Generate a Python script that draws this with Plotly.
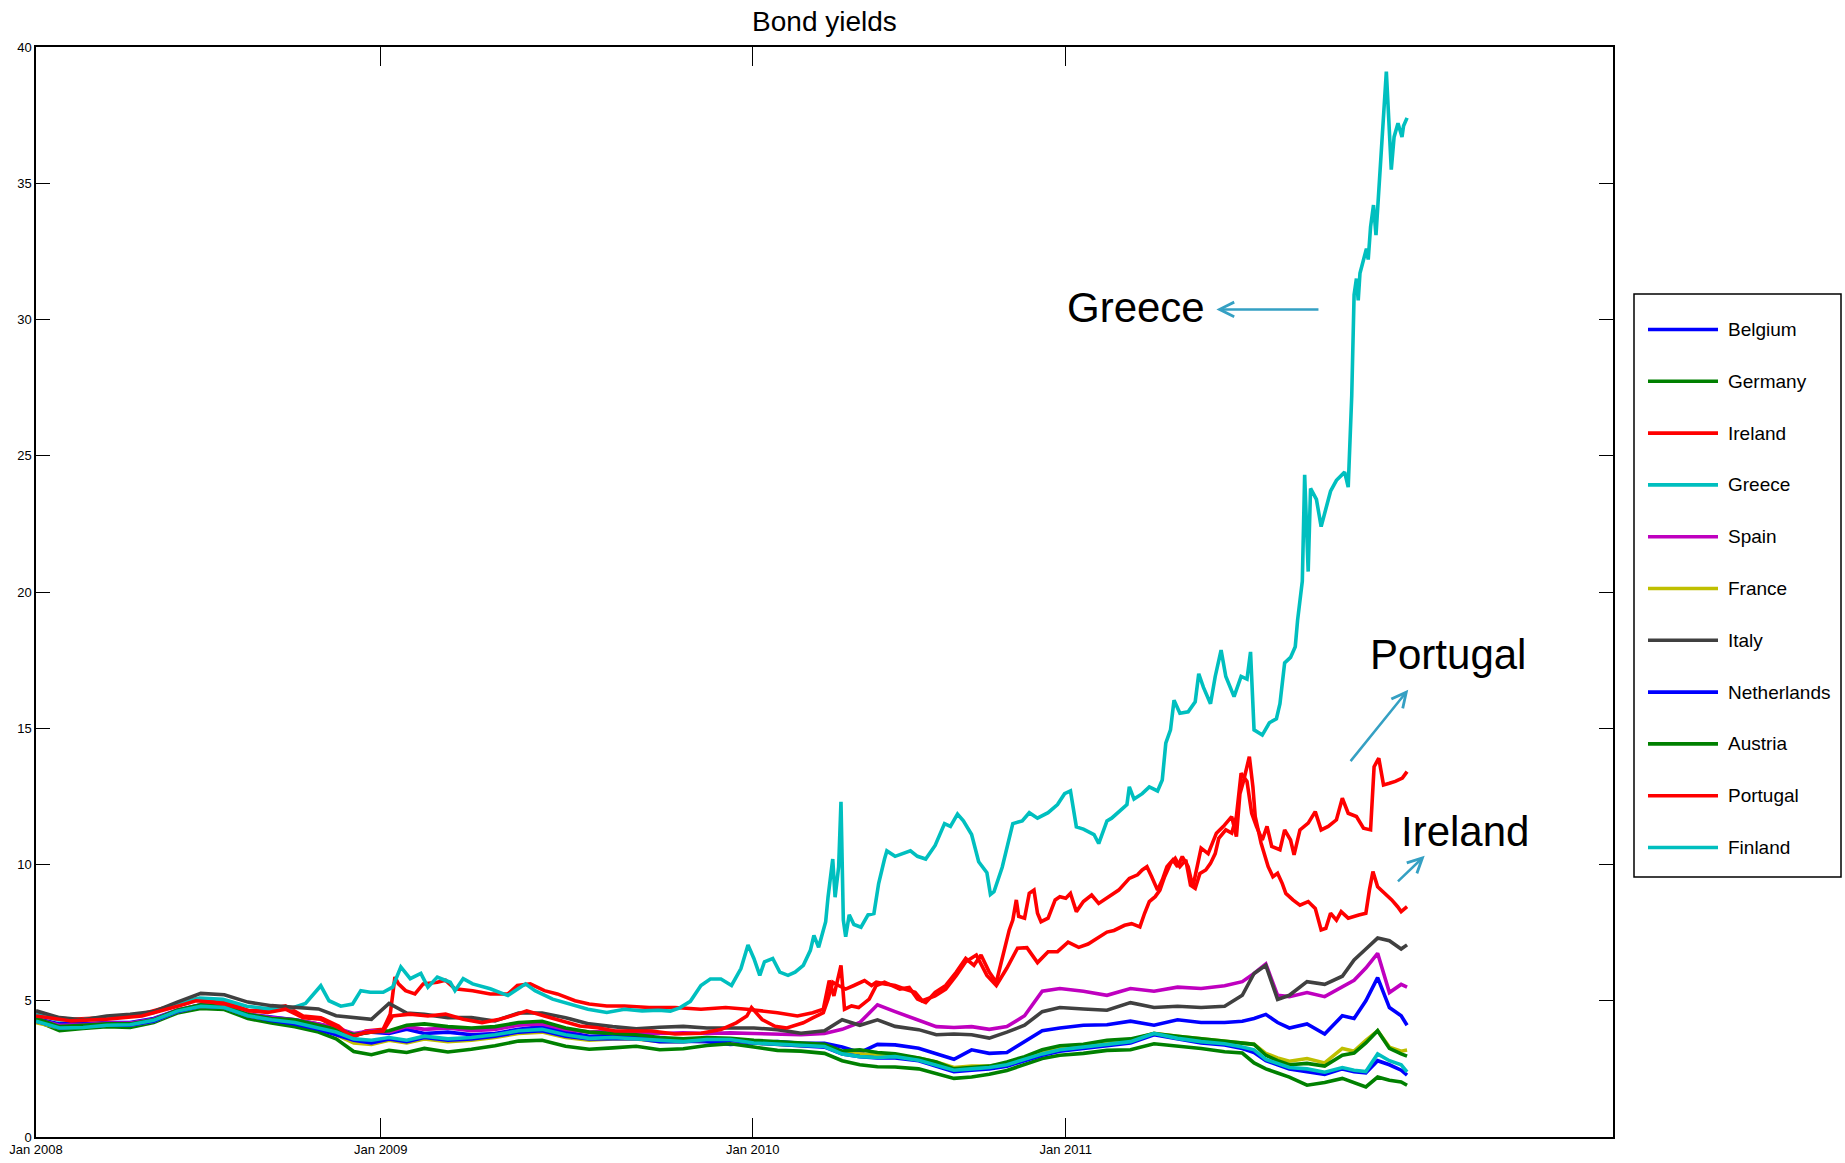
import plotly.graph_objects as go

# ---------------- data ----------------
# x = trading-day index counted from the first observation (Jan 2008)
tick_index = [0, 293, 609, 875]
tick_labels = ["Jan 2008", "Jan 2009", "Jan 2010", "Jan 2011"]
y_ticks = [0, 5, 10, 15, 20, 25, 30, 35, 40]

grid_x = [0, 20, 40, 60, 80, 100, 120, 140, 160, 180,
          200, 220, 240, 255, 270, 285, 300, 315, 330, 350,
          370, 390, 410, 430, 450, 470, 490, 510, 530, 550,
          570, 590, 610, 630, 650, 670, 685, 700, 715, 730,
          750, 765, 780, 795, 810, 825, 840, 855, 870, 890,
          910, 930, 950, 970, 990, 1010, 1025, 1035, 1045, 1055,
          1065, 1080, 1095, 1110, 1120, 1130, 1140, 1150, 1160, 1165]

belgium = [4.35, 4.15, 4.15, 4.20, 4.20, 4.35, 4.65, 4.85, 4.80, 4.50,
           4.40, 4.30, 4.15, 4.00, 3.75, 3.85, 3.80, 3.95, 3.80, 3.85,
           3.75, 3.80, 3.95, 4.05, 3.85, 3.70, 3.72, 3.65, 3.58, 3.52,
           3.50, 3.40, 3.45, 3.50, 3.44, 3.44, 3.30, 3.10, 3.40, 3.38,
           3.26, 3.07, 2.85, 3.20, 3.07, 3.10, 3.50, 3.90, 4.00, 4.10,
           4.12, 4.25, 4.10, 4.30, 4.20, 4.20, 4.25, 4.35, 4.50, 4.20,
           4.00, 4.15, 3.78, 4.45, 4.35, 5.00, 5.85, 4.75, 4.45, 4.10]

germany = [4.26, 3.90, 3.98, 4.05, 4.02, 4.20, 4.55, 4.72, 4.68, 4.35,
           4.18, 4.05, 3.85, 3.60, 3.14, 3.02, 3.18, 3.10, 3.25, 3.12,
           3.22, 3.35, 3.52, 3.55, 3.33, 3.22, 3.27, 3.33, 3.20, 3.24,
           3.36, 3.42, 3.30, 3.18, 3.15, 3.07, 2.80, 2.65, 2.58, 2.57,
           2.50, 2.32, 2.15, 2.20, 2.30, 2.44, 2.65, 2.88, 3.00, 3.07,
           3.18, 3.20, 3.42, 3.35, 3.25, 3.13, 3.08, 2.72, 2.50, 2.35,
           2.20, 1.90, 2.00, 2.15, 1.98, 1.84, 2.20, 2.08, 2.02, 1.90]

spain = [4.32, 4.10, 4.12, 4.18, 4.18, 4.32, 4.65, 4.85, 4.80, 4.50,
         4.38, 4.30, 4.15, 4.00, 3.80, 3.90, 3.85, 4.05, 3.95, 4.00,
         3.90, 3.95, 4.10, 4.15, 3.95, 3.85, 3.88, 3.82, 3.80, 3.82,
         3.80, 3.82, 3.80, 3.78, 3.75, 3.80, 3.95, 4.20, 4.85, 4.60,
         4.30, 4.05, 4.02, 4.05, 3.95, 4.05, 4.45, 5.35, 5.45, 5.35,
         5.20, 5.45, 5.35, 5.50, 5.45, 5.55, 5.70, 6.00, 6.35, 5.20,
         5.15, 5.30, 5.15, 5.50, 5.75, 6.20, 6.74, 5.30, 5.60, 5.50]

france = [4.20, 4.00, 4.05, 4.10, 4.10, 4.25, 4.60, 4.80, 4.75, 4.45,
          4.30, 4.20, 4.00, 3.75, 3.45, 3.40, 3.55, 3.45, 3.60, 3.50,
          3.55, 3.65, 3.80, 3.85, 3.65, 3.55, 3.60, 3.60, 3.50, 3.50,
          3.55, 3.55, 3.45, 3.40, 3.35, 3.35, 3.10, 3.05, 3.00, 3.00,
          2.90, 2.75, 2.55, 2.60, 2.60, 2.70, 2.90, 3.10, 3.30, 3.35,
          3.50, 3.55, 3.80, 3.70, 3.60, 3.50, 3.45, 3.40, 3.07, 2.90,
          2.78, 2.88, 2.72, 3.25, 3.15, 3.55, 3.90, 3.30, 3.15, 3.19]

italy = [4.63, 4.38, 4.30, 4.44, 4.50, 4.60, 4.95, 5.27, 5.22, 4.95,
         4.82, 4.75, 4.70, 4.45, 4.38, 4.32, 4.90, 4.55, 4.50, 4.38,
         4.38, 4.26, 4.55, 4.55, 4.38, 4.15, 4.05, 3.97, 4.03, 4.06,
         4.00, 4.00, 4.00, 3.94, 3.81, 3.90, 4.30, 4.10, 4.30, 4.06,
         3.94, 3.75, 3.78, 3.75, 3.63, 3.85, 4.10, 4.60, 4.75, 4.70,
         4.65, 4.93, 4.75, 4.80, 4.75, 4.80, 5.20, 6.00, 6.30, 5.05,
         5.20, 5.70, 5.60, 5.90, 6.50, 6.90, 7.30, 7.20, 6.90, 7.05]

netherlands = [4.25, 4.00, 4.05, 4.10, 4.10, 4.25, 4.60, 4.80, 4.75, 4.45,
               4.28, 4.15, 3.95, 3.75, 3.55, 3.45, 3.60, 3.50, 3.65, 3.55,
               3.60, 3.70, 3.85, 3.90, 3.70, 3.60, 3.62, 3.62, 3.50, 3.50,
               3.55, 3.55, 3.45, 3.40, 3.35, 3.30, 3.05, 2.95, 2.90, 2.90,
               2.80, 2.60, 2.40, 2.45, 2.50, 2.60, 2.80, 3.00, 3.15, 3.25,
               3.35, 3.45, 3.75, 3.60, 3.45, 3.38, 3.25, 3.10, 2.80, 2.65,
               2.50, 2.40, 2.30, 2.50, 2.40, 2.35, 2.80, 2.65, 2.45, 2.27]

austria = [4.35, 4.05, 4.10, 4.15, 4.15, 4.30, 4.65, 4.85, 4.80, 4.50,
           4.35, 4.30, 4.10, 3.95, 3.75, 3.85, 3.90, 4.10, 4.15, 4.05,
           4.00, 4.05, 4.20, 4.25, 4.00, 3.85, 3.80, 3.75, 3.65, 3.60,
           3.65, 3.62, 3.55, 3.50, 3.45, 3.40, 3.15, 3.20, 3.10, 3.05,
           2.90, 2.75, 2.50, 2.55, 2.60, 2.75, 2.95, 3.20, 3.35, 3.40,
           3.55, 3.60, 3.80, 3.70, 3.60, 3.50, 3.45, 3.40, 3.00, 2.80,
           2.65, 2.70, 2.60, 3.00, 3.08, 3.45, 3.90, 3.25, 3.05, 2.97]

finland = [4.25, 4.00, 4.02, 4.10, 4.12, 4.28, 4.62, 4.80, 4.75, 4.45,
           4.30, 4.20, 4.00, 3.85, 3.60, 3.55, 3.65, 3.55, 3.70, 3.60,
           3.65, 3.75, 3.90, 3.95, 3.75, 3.62, 3.65, 3.60, 3.52, 3.50,
           3.58, 3.58, 3.45, 3.40, 3.38, 3.32, 3.05, 2.95, 2.92, 2.95,
           2.82, 2.65, 2.45, 2.50, 2.55, 2.65, 2.85, 3.05, 3.20, 3.30,
           3.40, 3.50, 3.80, 3.62, 3.50, 3.42, 3.30, 3.20, 2.85, 2.70,
           2.55, 2.50, 2.38, 2.55, 2.45, 2.40, 3.05, 2.80, 2.65, 2.39]

# (day index, yield) pairs for the three peripheral series read in more detail
greece_pts = [
    (0, 4.50), (19, 4.30), (39, 4.30), (59, 4.40), (79, 4.45), (99, 4.55), (119, 4.85),
    (139, 5.10), (159, 5.05), (179, 4.80), (199, 4.70), (219, 4.75), (229, 4.90), (242, 5.55),
    (249, 5.00), (259, 4.80), (269, 4.88), (276, 5.37), (284, 5.31), (295, 5.31), (303, 5.50),
    (310, 6.24), (318, 5.81), (327, 6.00), (333, 5.50), (341, 5.87), (352, 5.68), (356, 5.37),
    (363, 5.81), (371, 5.62), (386, 5.44), (401, 5.19), (416, 5.62), (424, 5.37), (439, 5.06),
    (454, 4.88), (469, 4.69), (485, 4.57), (500, 4.69), (515, 4.63), (529, 4.65), (539, 4.62),
    (547, 4.74), (556, 4.98), (565, 5.56), (573, 5.80), (582, 5.80), (591, 5.56), (599, 6.18),
    (605, 7.05), (610, 6.55), (615, 5.93), (619, 6.43), (626, 6.55), (632, 6.05), (639, 5.93),
    (645, 6.05), (652, 6.30), (658, 6.85), (661, 7.40), (665, 6.96), (671, 7.90), (673, 8.80),
    (677, 10.20), (679, 8.80), (682, 9.90), (684, 12.30), (686, 7.96), (688, 7.35), (691, 8.15),
    (695, 7.80), (701, 7.70), (707, 8.15), (712, 8.20), (716, 9.30), (721, 10.20), (723, 10.50),
    (730, 10.30), (736, 10.40), (743, 10.50), (749, 10.30), (756, 10.20), (764, 10.70),
    (772, 11.50), (777, 11.40), (783, 11.85), (788, 11.60), (795, 11.10), (801, 10.10),
    (808, 9.70), (811, 8.90), (814, 9.00), (821, 9.90), (825, 10.65), (830, 11.50), (838, 11.60),
    (844, 11.90), (851, 11.70), (860, 11.90), (868, 12.20), (874, 12.60), (879, 12.70),
    (884, 11.38), (890, 11.30), (899, 11.10), (903, 10.77), (910, 11.60), (914, 11.70),
    (927, 12.20), (929, 12.85), (933, 12.40), (940, 12.60), (946, 12.85), (953, 12.70),
    (957, 13.10), (960, 14.45), (964, 14.94), (967, 16.03), (972, 15.55), (979, 15.60),
    (985, 15.97), (988, 17.00), (992, 16.50), (998, 15.90), (1002, 16.90), (1007, 17.87),
    (1011, 16.90), (1018, 16.16), (1024, 16.90), (1029, 16.80), (1032, 17.80), (1035, 14.94),
    (1042, 14.75), (1048, 15.20), (1054, 15.35), (1057, 15.90), (1061, 17.40), (1066, 17.60),
    (1070, 17.99), (1072, 18.97), (1074, 19.70), (1076, 20.40), (1078, 24.30), (1080, 21.50),
    (1081, 20.75), (1083, 23.80), (1088, 23.40), (1092, 22.40), (1100, 23.70), (1105, 24.10),
    (1112, 24.40), (1115, 23.85), (1118, 27.20), (1120, 30.90), (1122, 31.50), (1123.5, 30.70),
    (1125, 31.70), (1130.5, 32.60), (1132, 32.20), (1134, 33.40), (1136.5, 34.20),
    (1138.6, 33.10), (1142.4, 35.50), (1145.2, 37.60), (1147.4, 39.10), (1149.4, 37.40),
    (1151.6, 35.50), (1154, 36.70), (1157.3, 37.20), (1160.7, 36.70), (1162, 37.10), (1165, 37.40),
]

ireland_pts = [
    (0, 4.51), (14, 4.40), (30, 4.32), (60, 4.38), (90, 4.51), (121, 4.88), (136, 5.06),
    (151, 5.00), (166, 4.88), (181, 4.63), (197, 4.69), (212, 4.81), (227, 4.44), (242, 4.38),
    (257, 4.07), (269, 3.64), (280, 3.89), (295, 3.95), (301, 4.51), (305, 5.87), (308, 5.62),
    (314, 5.37), (322, 5.25), (329, 5.62), (341, 5.68), (348, 5.75), (356, 5.44), (371, 5.37),
    (386, 5.25), (401, 5.25), (409, 5.56), (420, 5.62), (432, 5.37), (443, 5.25), (458, 5.00),
    (470, 4.88), (485, 4.81), (500, 4.81), (521, 4.75), (543, 4.75), (565, 4.69), (586, 4.75),
    (604, 4.69), (630, 4.56), (647, 4.44), (660, 4.56), (669, 4.69), (674, 5.74), (678, 5.18),
    (684, 6.30), (687, 4.69), (693, 4.81), (699, 4.75), (708, 5.06), (714, 5.56), (721, 5.68),
    (727, 5.56), (734, 5.43), (742, 5.49), (749, 5.06), (756, 4.93), (764, 5.31), (773, 5.56),
    (782, 6.05), (790, 6.55), (797, 6.30), (803, 6.68), (810, 6.05), (816, 5.68), (823, 6.85),
    (827, 7.60), (830, 7.96), (833, 8.70), (835, 8.10), (840, 8.03), (844, 8.94), (848, 9.06),
    (851, 8.21), (854, 7.90), (860, 8.03), (866, 8.70), (870, 8.82), (875, 8.76), (879, 8.94),
    (884, 8.27), (890, 8.64), (897, 8.88), (903, 8.57), (912, 8.82), (920, 9.06), (929, 9.49),
    (936, 9.62), (940, 9.80), (944, 9.92), (948, 9.55), (953, 9.06), (957, 9.43), (961, 9.92),
    (966, 10.17), (970, 9.92), (974, 10.29), (979, 9.92), (983, 9.18), (990, 10.60),
    (996, 10.40), (1003, 11.15), (1009, 11.40), (1016, 11.76), (1020, 11.02), (1023, 12.60),
    (1026, 13.05), (1031, 13.96), (1034, 12.86), (1036, 11.76), (1041, 10.78), (1044, 10.40),
    (1047, 9.92), (1051, 9.55), (1055, 9.68), (1059, 9.30), (1062, 8.94), (1068, 8.70),
    (1074, 8.51), (1081, 8.64), (1087, 8.39), (1092, 7.60), (1096, 7.66), (1100, 8.21),
    (1105, 7.96), (1109, 8.27), (1115, 8.03), (1124, 8.15), (1130, 8.21), (1133, 9.06),
    (1136, 9.74), (1140, 9.18), (1146, 8.94), (1152, 8.70), (1157, 8.45), (1160, 8.27), (1165, 8.45),
]

portugal_pts = [
    (0, 4.44), (30, 4.26), (60, 4.32), (90, 4.44), (121, 4.81), (136, 5.00), (151, 4.94),
    (166, 4.81), (181, 4.63), (197, 4.57), (212, 4.69), (227, 4.38), (242, 4.32), (257, 4.01),
    (269, 3.70), (280, 3.83), (295, 3.89), (303, 4.44), (318, 4.51), (333, 4.44), (348, 4.51),
    (363, 4.32), (379, 4.20), (394, 4.32), (409, 4.51), (417, 4.63), (432, 4.44), (447, 4.26),
    (462, 4.07), (477, 4.01), (492, 3.89), (508, 3.89), (523, 3.89), (543, 3.78), (565, 3.81),
    (582, 3.94), (595, 4.19), (604, 4.44), (608, 4.75), (617, 4.31), (628, 4.06), (638, 4.00),
    (652, 4.19), (660, 4.37), (669, 4.56), (673, 5.06), (677, 5.68), (682, 5.56), (688, 5.43),
    (695, 5.56), (704, 5.74), (710, 5.56), (714, 5.68), (721, 5.62), (730, 5.56), (738, 5.43),
    (747, 5.31), (753, 5.00), (764, 5.18), (773, 5.43), (782, 5.93), (790, 6.43), (799, 6.68),
    (808, 5.93), (816, 5.56), (825, 6.20), (834, 6.93), (842, 6.95), (851, 6.40), (860, 6.80),
    (868, 6.80), (877, 7.15), (886, 6.96), (894, 7.08), (903, 7.33), (910, 7.52), (916, 7.58),
    (925, 7.77), (931, 7.83), (938, 7.71), (942, 8.21), (946, 8.64), (951, 8.82), (955, 9.06),
    (959, 9.55), (964, 10.04), (968, 10.23), (972, 9.92), (977, 10.17), (981, 9.24), (985, 9.12),
    (989, 9.67), (994, 9.80), (998, 10.04), (1002, 10.40), (1005, 10.96), (1011, 11.27),
    (1016, 11.15), (1020, 11.76), (1024, 13.35), (1029, 13.05), (1033, 11.88), (1037, 11.40),
    (1042, 10.90), (1046, 11.40), (1050, 10.66), (1057, 10.54), (1061, 11.27), (1066, 10.90),
    (1069, 10.35), (1074, 11.27), (1081, 11.52), (1087, 11.94), (1092, 11.27), (1098, 11.40),
    (1105, 11.64), (1110, 12.43), (1115, 11.88), (1122, 11.76), (1128, 11.33), (1134, 11.27),
    (1137, 13.59), (1141, 13.90), (1145, 12.92), (1150, 12.98), (1155, 13.05), (1161, 13.17),
    (1165, 13.41),
]

countries = ["Belgium", "Germany", "Ireland", "Greece", "Spain", "France",
             "Italy", "Netherlands", "Austria", "Portugal", "Finland"]
colors = ["#0000FF", "#008000", "#FF0000", "#00BFBF", "#BF00BF", "#BFBF00",
          "#404040", "#0000FF", "#008000", "#FF0000", "#00BFBF"]

# annotation callouts: (label, text x, text y, arrow tail x, tail y, head x, head y)
callouts = [
    ("Greece", 935, 30.45, 1091, 30.37, 1003, 30.37),
    ("Portugal", 1200, 17.70, 1116, 13.74, 1166, 16.41),
    ("Ireland", 1214, 11.22, 1156, 9.33, 1180, 10.32),
]


def unzip(pts):
    return [p[0] for p in pts], [p[1] for p in pts]


series = {
    "Belgium": (grid_x, belgium),
    "Germany": (grid_x, germany),
    "Ireland": unzip(ireland_pts),
    "Greece": unzip(greece_pts),
    "Spain": (grid_x, spain),
    "France": (grid_x, france),
    "Italy": (grid_x, italy),
    "Netherlands": (grid_x, netherlands),
    "Austria": (grid_x, austria),
    "Portugal": unzip(portugal_pts),
    "Finland": (grid_x, finland),
}

# ---------------- figure ----------------
W, H = 1845, 1163
PL, PR, PT, PB = 36, 1613, 47, 1137  # plot-area pixel edges
SANS = "Liberation Sans, Arial, sans-serif"
ARROW = "#35A0C3"
LW = 3.6

fig = go.Figure()
for name, color in zip(countries, colors):
    xs, ys = series[name]
    fig.add_trace(go.Scatter(x=xs, y=ys, mode="lines", name=name,
                             line=dict(color=color, width=LW),
                             showlegend=False, hoverinfo="x+y+name"))


def fx(px):
    return (px - PL) / (PR - PL)


def fy(py):
    return (PB - py) / (PB - PT)


shapes = []
annotations = []

# legend box drawn by hand so the line samples are long like the original
shapes.append(dict(type="rect", xref="paper", yref="paper",
                   x0=fx(1634), x1=fx(1841), y0=fy(877), y1=fy(294),
                   line=dict(color="black", width=1.5), fillcolor="white", layer="above"))
for i, (name, color) in enumerate(zip(countries, colors)):
    yc = fy(329.5 + 51.8 * i)
    shapes.append(dict(type="line", xref="paper", yref="paper",
                       x0=fx(1648), x1=fx(1718), y0=yc, y1=yc,
                       line=dict(color=color, width=LW), layer="above"))
    annotations.append(dict(xref="paper", yref="paper", x=fx(1726), y=yc,
                            text=name, showarrow=False, xanchor="left", yanchor="middle",
                            font=dict(family=SANS, size=19, color="black")))

for label, tx, ty, ax0, ay0, hx, hy in callouts:
    annotations.append(dict(x=tx, y=ty, xref="x", yref="y", text=label, showarrow=False,
                            xanchor="center", yanchor="middle",
                            font=dict(family=SANS, size=42, color="black")))
    annotations.append(dict(x=hx, y=hy, xref="x", yref="y", ax=ax0, ay=ay0,
                            axref="x", ayref="y", text="", showarrow=True,
                            arrowhead=5, arrowsize=1.15, arrowwidth=2.5,
                            arrowcolor=ARROW))

axis_common = dict(showline=True, linecolor="black", linewidth=1.5, mirror="ticks",
                   ticks="inside", tickcolor="black", tickwidth=1.2,
                   showgrid=False, zeroline=False, automargin=False,
                   tickfont=dict(family=SANS, size=13, color="black"))

fig.update_layout(
    width=W, height=H,
    margin=dict(l=PL, r=W - PR, t=PT, b=H - PB, autoexpand=False),
    paper_bgcolor="white", plot_bgcolor="white",
    title=dict(text="Bond yields", x=fx((PL + PR) / 2), xref="paper",
               y=1 - 21 / H, yref="container", xanchor="center", yanchor="middle",
               automargin=False,
               font=dict(family=SANS, size=28, color="black")),
    xaxis=dict(range=[0, 1340], tickvals=tick_index, ticktext=tick_labels,
               ticklen=19, **axis_common),
    yaxis=dict(range=[0, 40], tickvals=y_ticks, ticklen=14, **axis_common),
    shapes=shapes,
    annotations=annotations,
    showlegend=False,
)

fig.write_html("out.html")
